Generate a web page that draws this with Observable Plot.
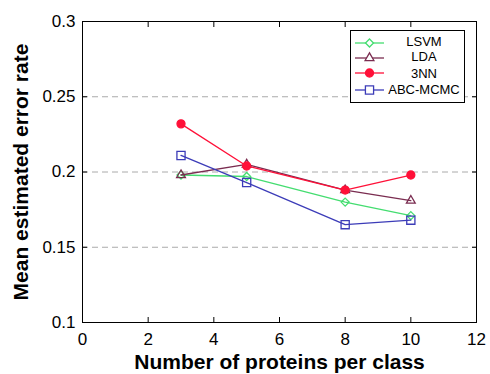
<!DOCTYPE html>
<html>
<head>
<meta charset="utf-8">
<script src="https://cdn.jsdelivr.net/npm/d3@7"></script>
<script src="https://cdn.jsdelivr.net/npm/@observablehq/plot@0.6"></script>
<style>
  body { margin: 0; background: #fff; }
  #wrap { position: relative; width: 490px; height: 374px; font-family: "Liberation Sans", Arial, sans-serif; }
  #wrap svg { font-family: "Liberation Sans", Arial, sans-serif; }
  g[aria-label="x-axis label"] text, g[aria-label="y-axis label"] text { font-weight: bold; font-size: 21px; fill: #000; }
  #legend { position: absolute; left: 350px; top: 30px; width: 113px; height: 71px; border: 1px solid #000; background: #fff; }
  #legend svg { position: absolute; left: 4px; }
  #legend span { position: absolute; left: 34px; width: 78px; text-align: center; font-size: 13px; line-height: 11px; color: #000; white-space: nowrap; }
</style>
</head>
<body>
<div id="wrap"></div>
<script>
const proteins = [3, 5, 8, 10];
const seriesNames = ["LSVM", "LDA", "3NN", "ABC-MCMC"];
const lsvm = [0.198, 0.197, 0.180, 0.171];
const lda = [0.198, 0.205, 0.188, 0.181];
const nn3 = [0.232, 0.204, 0.188, 0.198];
const abc = [0.211, 0.193, 0.165, 0.168];
const xTicks = [0, 2, 4, 6, 8, 10, 12];
const yTicks = [0.1, 0.15, 0.2, 0.25, 0.3];
const gridValues = [0.15, 0.2, 0.25];

const colors = {"LSVM": "#44dd70", "LDA": "#7a2c50", "3NN": "#ff1038", "ABC-MCMC": "#3c3cb8"};
const symbols = {"LSVM": "diamond2", "LDA": "triangle2", "3NN": "circle", "ABC-MCMC": "square2"};
const radii = {"LSVM": 3.6, "LDA": 4.2, "3NN": 4, "ABC-MCMC": 5.2};
const values = {"LSVM": lsvm, "LDA": lda, "3NN": nn3, "ABC-MCMC": abc};

const rows = seriesNames.flatMap(s => proteins.map((p, i) => ({series: s, x: p, y: values[s][i]})));

const marks = [
  Plot.ruleY(gridValues, {stroke: "#aaaaaa", strokeWidth: 1, strokeDasharray: "6,4"}),
  Plot.axisX({ticks: xTicks, tickSize: -5, tickPadding: 15, fontSize: 17, label: "Number of proteins per class", labelAnchor: "center", labelOffset: 46, labelArrow: "none"}),
  Plot.axisX({anchor: "top", ticks: xTicks, tickSize: -5, tickFormat: () => "", label: null}),
  Plot.axisY({ticks: yTicks, tickSize: -5, tickPadding: 12, fontSize: 17, tickFormat: d => String(d), label: "Mean estimated error rate", labelAnchor: "center", labelOffset: 69, labelArrow: "none"}),
  Plot.axisY({anchor: "right", ticks: yTicks, tickSize: -5, tickFormat: () => "", label: null}),
  Plot.frame({stroke: "#000", strokeWidth: 1})
];
for (const s of seriesNames) {
  const data = rows.filter(d => d.series === s);
  marks.push(Plot.line(data, {x: "x", y: "y", stroke: colors[s], strokeWidth: 1.3}));
  marks.push(Plot.dot(data, {x: "x", y: "y", symbol: () => symbols[s], r: radii[s],
    stroke: colors[s], strokeWidth: 1.3, fill: s === "3NN" ? colors[s] : "none"}));
}

const chart = Plot.plot({
  width: 490, height: 374,
  marginLeft: 82, marginRight: 14, marginTop: 21, marginBottom: 52,
  x: {domain: [0, 12]},
  y: {domain: [0.1, 0.3]},
  symbol: {type: "identity"},
  style: {background: "#fff", color: "#000", fontSize: "17px"},
  marks
});
const wrap = document.getElementById("wrap");
wrap.appendChild(chart);

// legend (page-pixel centres of swatch lines and texts)
const legend = document.createElement("div");
legend.id = "legend";
const swatchY = {"LSVM": 42.7, "LDA": 58.3, "3NN": 73.3, "ABC-MCMC": 90};
const textY = {"LSVM": 41, "LDA": 56, "3NN": 73.5, "ABC-MCMC": 89};
for (const s of seriesNames) {
  const sw = d3.create("svg").attr("width", 30).attr("height", 14).style("top", (swatchY[s] - 31 - 7) + "px");
  sw.append("line").attr("x1", 0).attr("x2", 29).attr("y1", 7).attr("y2", 7).attr("stroke", colors[s]).attr("stroke-width", 1.3);
  sw.append("path").attr("transform", "translate(14.5,7)")
    .attr("d", d3.symbol(s === "LSVM" ? d3.symbolDiamond2 : s === "LDA" ? d3.symbolTriangle2 : s === "3NN" ? d3.symbolCircle : d3.symbolSquare2, radii[s] * radii[s] * Math.PI)())
    .attr("stroke", colors[s]).attr("stroke-width", 1.3).attr("fill", s === "3NN" ? colors[s] : "#fff");
  legend.appendChild(sw.node());
  const t = document.createElement("span");
  t.textContent = s;
  t.style.top = (textY[s] - 31 - 5.5) + "px";
  legend.appendChild(t);
}
wrap.appendChild(legend);
</script>
</body>
</html>
